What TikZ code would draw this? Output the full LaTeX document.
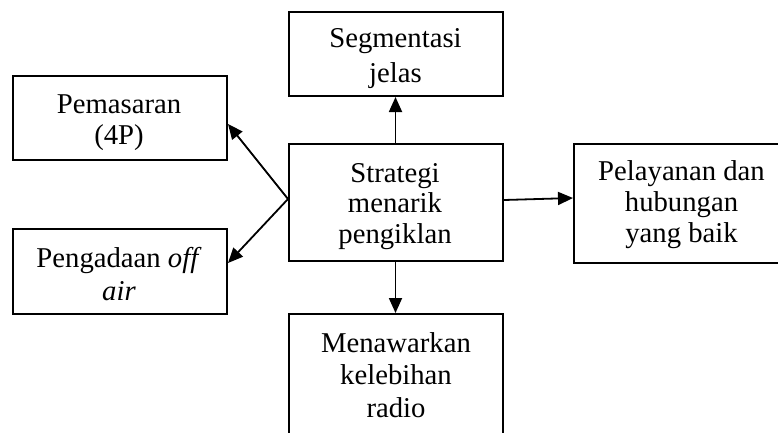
\documentclass[tikz,border=0pt]{standalone}
\usepackage{fontspec}
\setmainfont{Liberation Serif}
\usetikzlibrary{arrows.meta}

\tikzset{
  box/.style={draw, line width=2pt, inner sep=0pt, anchor=north west},
  % anchored at the baseline of the last line
  txt/.style={anchor=base, align=center, inner sep=0pt},
  link/.style={line width=1.8pt, -{Triangle[length=15pt, width=13pt]}},
}
\newcommand{\boxfont}[1]{\fontsize{28.7pt}{#1}\selectfont}

\begin{document}
\begin{tikzpicture}[x=1pt, y=-1pt]
  \useasboundingbox (0,0) rectangle (778,432);
  \clip (0,0) rectangle (778,432);

  % boxes
  \node[box, minimum width=214pt, minimum height=84pt]  (seg)   at (288,11)  {};
  \node[box, minimum width=214pt, minimum height=84pt]  (pem)   at (12,75)   {};
  \node[box, minimum width=214pt, minimum height=117pt] (strat) at (288,143) {};
  \node[box, minimum width=240pt, minimum height=119pt] (pel)   at (573,143) {};
  \node[box, minimum width=214pt, minimum height=85pt]  (pen)   at (12,228)  {};
  \node[box, minimum width=214pt, minimum height=150pt] (men)   at (288,313) {};

  % labels
  \node[txt, font=\boxfont{34.6pt}] (segT)   at (395.5,82.3) {Segmentasi\\jelas};
  \node[txt, font=\boxfont{31pt}]   (pemT)   at (119,144)    {Pemasaran\\(4P)};
  \node[txt, font=\boxfont{30.5pt}] (stratT) at (395,243)    {Strategi\\menarik\\pengiklan};
  \node[txt, font=\boxfont{31pt}]   (pelT)   at (681.5,242)  {Pelayanan dan\\hubungan\\yang baik};
  \node[txt, font=\boxfont{33pt}]   (penT)   at (119,300)    {Pengadaan \textit{off}\\\textit{air}};
  \node[txt, font=\boxfont{32.5pt}] (menT)   at (396,417)    {Menawarkan\\kelebihan\\radio};

  % connector end points on the box sides
  \coordinate (split) at ([yshift=3.5pt]strat.west);
  \coordinate (pemIn) at ([yshift=-6pt]pem.east);
  \coordinate (penIn) at ([yshift=8.5pt]pen.east);
  \coordinate (stratOut) at ([yshift=2.5pt]strat.east);
  \coordinate (pelIn) at ([yshift=5.5pt]pel.west);

  % connectors
  \draw[link] ([xshift=-0.5pt]strat.north) -- ([xshift=-0.5pt]seg.south);
  \draw[link] ([xshift=-0.5pt]strat.south) -- ([xshift=-0.5pt]men.north);
  \draw[link] (split) -- (pemIn);
  \draw[link] (split) -- (penIn);
  \draw[link] (stratOut) -- (pelIn);
\end{tikzpicture}
\end{document}
